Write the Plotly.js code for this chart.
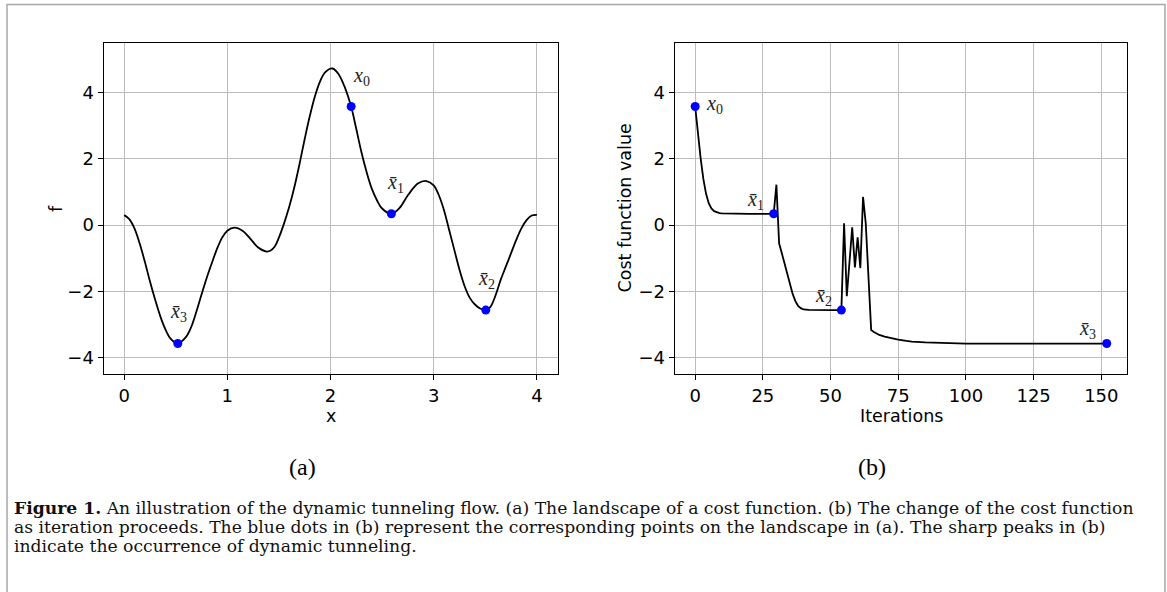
<!DOCTYPE html>
<html>
<head>
<meta charset="utf-8">
<script src="https://cdn.plot.ly/plotly-3.0.1.min.js"></script>
<style>
  html, body { margin: 0; padding: 0; background: #fff; }
  #chart { width: 1167px; height: 592px; }
</style>
</head>
<body>
<div id="chart"></div>
<script>
// ---- Panel (a): landscape of the cost function ----
const landscapeX = [0.00,0.05,0.10,0.15,0.20,0.25,0.30,0.35,0.40,0.45,0.52,0.60,0.65,0.70,0.75,0.80,0.85,0.90,0.95,1.00,1.07,1.15,1.22,1.30,1.38,1.42,1.46,1.50,1.55,1.60,1.65,1.70,1.75,1.80,1.85,1.90,1.95,2.02,2.08,2.14,2.20,2.25,2.30,2.35,2.40,2.45,2.50,2.59,2.67,2.75,2.85,2.93,3.00,3.05,3.10,3.15,3.20,3.25,3.30,3.35,3.40,3.45,3.505,3.55,3.60,3.65,3.70,3.75,3.80,3.85,3.90,3.95,4.00];
const landscapeF = [0.30,0.18,-0.10,-0.55,-1.10,-1.70,-2.25,-2.75,-3.15,-3.43,-3.58,-3.38,-3.08,-2.62,-2.10,-1.60,-1.15,-0.72,-0.38,-0.17,-0.08,-0.18,-0.40,-0.68,-0.80,-0.77,-0.65,-0.38,0.05,0.55,1.15,1.85,2.60,3.30,3.90,4.35,4.62,4.73,4.55,4.15,3.58,2.90,2.20,1.60,1.10,0.75,0.50,0.34,0.52,0.90,1.26,1.33,1.20,0.90,0.45,-0.15,-0.75,-1.35,-1.85,-2.20,-2.40,-2.52,-2.57,-2.47,-2.12,-1.65,-1.25,-0.85,-0.45,-0.10,0.15,0.29,0.31];

// ---- Panel (b): cost function value vs iterations ----
const iterations = [0,1,2,3,4,5,6,7,8,9,10,12,15,20,25,29,30,31,32,33,34,35,36,37,38,39,40,42,45,50,54,55,56,57,58,59,60,61,62,63,64,65,66,67,68,70,72,75,78,80,85,90,95,100,110,120,130,140,152];
const costValue = [3.58,2.78,2.03,1.40,0.95,0.66,0.50,0.42,0.38,0.36,0.35,0.345,0.34,0.34,0.34,0.34,1.22,-0.55,-0.85,-1.18,-1.50,-1.82,-2.08,-2.30,-2.44,-2.51,-2.55,-2.56,-2.57,-2.57,-2.57,0.05,-2.15,-1.10,-0.07,-1.28,-0.37,-1.30,0.85,0.05,-1.60,-3.17,-3.23,-3.28,-3.32,-3.37,-3.41,-3.46,-3.50,-3.52,-3.545,-3.56,-3.57,-3.58,-3.58,-3.58,-3.58,-3.58,-3.58];

// ---- Marked points (blue dots) ----
const pointLabels = ['<i>x</i><sub>0</sub>', '<i>x̄</i><sub>1</sub>', '<i>x̄</i><sub>2</sub>', '<i>x̄</i><sub>3</sub>'];
const landscapePointX = [2.20, 2.59, 3.505, 0.52];
const landscapePointF = [3.58, 0.34, -2.57, -3.58];
const iterPointX = [0, 29, 54, 152];
const iterPointF = [3.58, 0.34, -2.57, -3.58];

const captionLines = [
  '<b>Figure 1.</b> An illustration of the dynamic tunneling flow. (a) The landscape of a cost function. (b) The change of the cost function',
  'as iteration proceeds. The blue dots in (b) represent the corresponding points on the landscape in (a). The sharp peaks in (b)',
  'indicate the occurrence of dynamic tunneling.'
];

// ---- layout helpers ----
const W = 1167, H = 592;
const px = v => v / W;
const py = v => 1 - v / H;
const tickFont = {family: 'DejaVu Sans', size: 18, color: '#000'};
const serif = 'Liberation Serif';

function axisBase(extra) {
  return Object.assign({
    showline: true, mirror: true, linecolor: '#000', linewidth: 1,
    ticks: 'outside', ticklen: 5, tickwidth: 1, tickcolor: '#000',
    showgrid: true, gridcolor: '#bdbdbd', gridwidth: 1,
    zeroline: false, automargin: false, tickfont: tickFont, fixedrange: true
  }, extra);
}

const traces = [
  {x: landscapeX, y: landscapeF, xaxis: 'x', yaxis: 'y', mode: 'lines',
   line: {color: '#000', width: 1.8, shape: 'spline', smoothing: 1}, hoverinfo: 'skip'},
  {x: landscapePointX, y: landscapePointF, xaxis: 'x', yaxis: 'y', mode: 'markers',
   marker: {color: '#0000ff', size: 9}},
  {x: iterations, y: costValue, xaxis: 'x2', yaxis: 'y2', mode: 'lines',
   line: {color: '#000', width: 1.8}, hoverinfo: 'skip'},
  {x: iterPointX, y: iterPointF, xaxis: 'x2', yaxis: 'y2', mode: 'markers',
   marker: {color: '#0000ff', size: 9}}
];

const annotations = [];
const labelFont = {family: serif, size: 20, color: '#222'};
const shiftsA = [[10, 30], [4, 30], [1, 31], [1, 31]];
const shiftsB = [[19, 2], [-18, 13], [-18, 14], [-19, 14]];
for (let i = 0; i < pointLabels.length; i++) {
  annotations.push({xref: 'x', yref: 'y', x: landscapePointX[i], y: landscapePointF[i],
    xanchor: 'center', yanchor: 'middle',
    text: pointLabels[i], showarrow: false, font: labelFont,
    xshift: shiftsA[i][0], yshift: shiftsA[i][1]});
  annotations.push({xref: 'x2', yref: 'y2', x: iterPointX[i], y: iterPointF[i],
    xanchor: 'center', yanchor: 'middle',
    text: pointLabels[i], showarrow: false, font: labelFont,
    xshift: shiftsB[i][0], yshift: shiftsB[i][1]});
}
function paperText(x, y, text, font, extra) {
  annotations.push(Object.assign({xref: 'paper', yref: 'paper', x: px(x), y: py(y),
    xanchor: 'center', yanchor: 'middle', text: text, showarrow: false, font: font}, extra || {}));
}
// axis titles
const titleFont = {family: 'DejaVu Sans', size: 17.5, color: '#000'};
paperText(330.5, 416, 'x', titleFont);
paperText(901, 416, 'Iterations', titleFont);
paperText(55.5, 208.5, 'f', titleFont, {textangle: -90});
paperText(624, 208.5, 'Cost function value', titleFont, {textangle: -90});
// panel labels
const panelFont = {family: serif, size: 24, color: '#000'};
paperText(302, 467, '(a)', panelFont);
paperText(872, 467, '(b)', panelFont);
// caption
const capY = [508, 527, 546];
captionLines.forEach((t, i) => {
  paperText(12, capY[i], t, {family: 'DejaVu Serif', size: 17.2, color: '#111'}, {xanchor: 'left', align: 'left'});
});

const layout = {
  width: W, height: H,
  margin: {l: 0, r: 0, t: 0, b: 0},
  paper_bgcolor: '#fff', plot_bgcolor: '#fff',
  showlegend: false,
  xaxis: axisBase({domain: [px(103.5), px(557.5)], range: [-0.2, 4.2], dtick: 1, tick0: 0, anchor: 'y'}),
  yaxis: axisBase({domain: [py(374), py(43)], range: [-4.5, 5.5], dtick: 2, tick0: 0, anchor: 'x'}),
  xaxis2: axisBase({domain: [px(674.6), px(1127.3)], range: [-7.6, 159.6], dtick: 25, tick0: 0, anchor: 'y2'}),
  yaxis2: axisBase({domain: [py(374), py(43)], range: [-4.5, 5.5], dtick: 2, tick0: 0, anchor: 'x2'}),
  annotations: annotations,
  shapes: [
    {type: 'rect', xref: 'paper', yref: 'paper', x0: px(7), x1: px(1165), y0: -0.05, y1: py(4.5),
     line: {color: '#a8a8a8', width: 1.5}, fillcolor: 'rgba(0,0,0,0)', layer: 'below'}
  ]
};

Plotly.newPlot('chart', traces, layout, {displayModeBar: false, staticPlot: true});
</script>
</body>
</html>
